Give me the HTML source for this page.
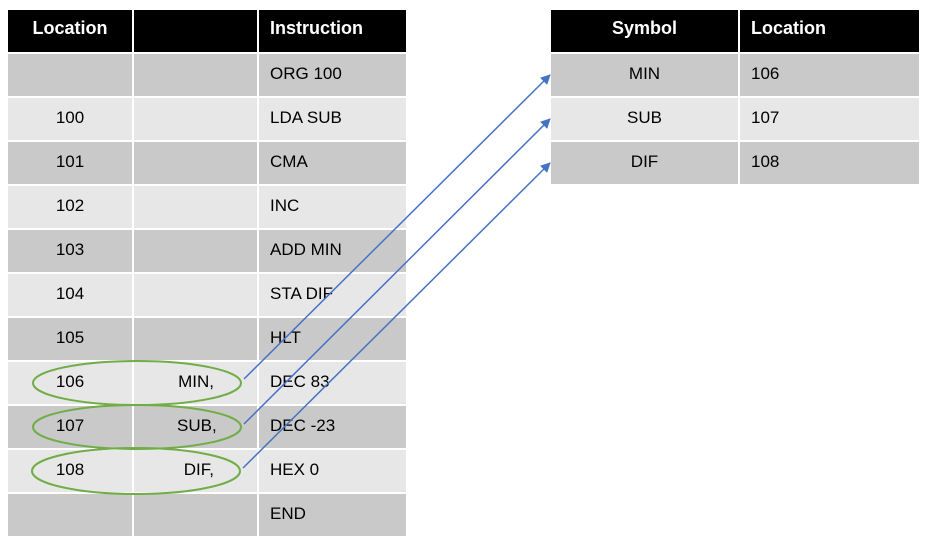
<!DOCTYPE html>
<html><head><meta charset="utf-8"><style>
body{margin:0;width:932px;height:547px;background:#fff;position:relative;overflow:hidden;font-family:"Liberation Sans",sans-serif;}
.c{position:absolute;box-sizing:border-box;font-size:17px;color:#000;line-height:39px;white-space:nowrap}
.h{background:#000;color:#fff;font-weight:bold;font-size:18px;line-height:37px}
.d{background:#c9c9c9}.l{background:#e7e7e7}
</style></head><body>
<div id="t"></div>
<svg width="932" height="547" style="position:absolute;left:0;top:0">
<defs><marker id="a" markerWidth="10" markerHeight="10" refX="9" refY="5" orient="auto" markerUnits="userSpaceOnUse"><path d="M0,0 L10,5 L0,10 Z" fill="#4472c4"/></marker></defs>
<g fill="none" stroke="#70ad47" stroke-width="2">
<ellipse cx="137" cy="383" rx="104" ry="22"/>
<ellipse cx="137" cy="427" rx="104" ry="22"/>
<ellipse cx="136" cy="471" rx="104" ry="23"/>
</g>
<g stroke="#4472c4" stroke-width="1.5" marker-end="url(#a)">
<line x1="244" y1="379" x2="550" y2="75"/>
<line x1="244" y1="424" x2="550" y2="119"/>
<line x1="243" y1="468" x2="550" y2="163"/>
</g>
</svg>
<script>
var t=document.getElementById('t'),h='';
function cell(x,y,w,hh,cls,txt,al,pad){h+='<div class="c '+cls+'" style="left:'+x+'px;top:'+y+'px;width:'+w+'px;height:'+hh+'px;text-align:'+al+';padding:0 '+(pad||0)+'px">'+txt+'</div>';}
cell(8,10,124,42,'h','Location','center');
cell(134,10,123,42,'h','','center');
cell(259,10,147,42,'h','Instruction','left',11);
var rows=[['','','ORG 100'],['100','','LDA SUB'],['101','','CMA'],['102','','INC'],['103','','ADD MIN'],['104','','STA DIF'],['105','','HLT'],['106','MIN,','DEC 83'],['107','SUB,','DEC -23'],['108','DIF,','HEX 0'],['','','END']];
for(var i=0;i<rows.length;i++){var y=54+i*44,c=i%2?'l':'d';
cell(8,y,124,42,c,rows[i][0],'center');
cell(134,y,123,42,c,rows[i][1],'right',43);
cell(259,y,147,42,c,rows[i][2],'left',11);}
cell(551,10,187,42,'h','Symbol','center');
cell(740,10,179,42,'h','Location','left',11);
var r2=[['MIN','106'],['SUB','107'],['DIF','108']];
for(var i=0;i<3;i++){var y=54+i*44,c=i%2?'l':'d';
cell(551,y,187,42,c,r2[i][0],'center');
cell(740,y,179,42,c,r2[i][1],'left',11);}
t.innerHTML=h;
</script>
</body></html>
